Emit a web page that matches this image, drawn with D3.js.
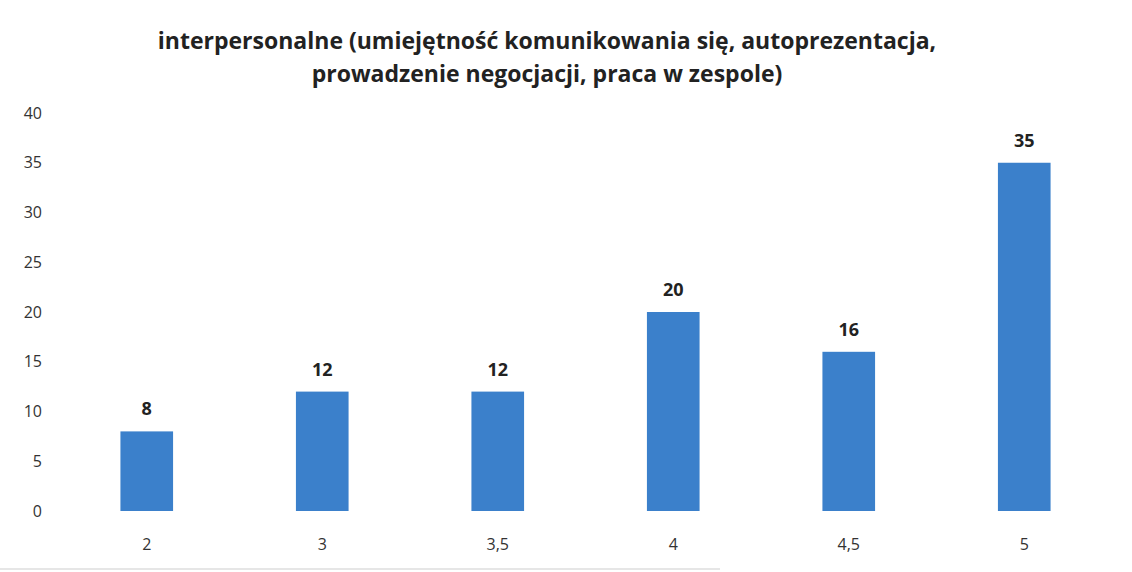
<html>
    <head>
        <meta charset="utf-8">
        <script src="https://d3js.org/d3.v7.min.js"></script>
        <style>
            body { margin: 0; background: #fff; }
            text { font-family: "Open Sans", sans-serif; fill: #222; }
            .tick text { font-size: 16px; fill: #333; }
            .title { font-weight: bold; font-size: 23px; }
            .value { font-weight: bold; font-size: 18px; }
        </style>
    </head>
    <body>
        <script>
            var titleLines = ["interpersonalne (umiejętność komunikowania się, autoprezentacja,",
                              "prowadzenie negocjacji, praca w zespole)"];
            var categories = ["2", "3", "3,5", "4", "4,5", "5"];
            var values = [8, 12, 12, 20, 16, 35];
            var yTicks = [0, 5, 10, 15, 20, 25, 30, 35, 40];

            var width = 1132, height = 572;

            var svg = d3.select("body").append("svg")
                .attr("width", width)
                .attr("height", height);

            var x = d3.scaleBand()
                .domain(categories)
                .range([59, 1112])
                .paddingInner(0.7)
                .paddingOuter(0.35);

            var y = d3.scaleLinear()
                .domain([0, 40])
                .range([511, 113]);

            // title
            svg.selectAll(".title")
                .data(titleLines)
                .enter().append("text")
                .attr("class", "title")
                .attr("x", 547)
                .attr("y", function (d, i) { return 49 + i * 33; })
                .attr("text-anchor", "middle")
                .text(function (d) { return d; });

            // y axis labels only
            var yAxis = svg.append("g")
                .attr("transform", "translate(42,0)")
                .call(d3.axisLeft(y).tickValues(yTicks).tickSize(0).tickPadding(0));
            yAxis.select(".domain").remove();

            var xAxis = svg.append("g")
                .attr("transform", "translate(0," + y(0) + ")")
                .call(d3.axisBottom(x).tickSize(0).tickPadding(28));
            xAxis.select(".domain").remove();

            svg.selectAll(".bar")
                .data(values)
                .enter().append("rect")
                .attr("class", "bar")
                .attr("x", function (d, i) { return x(categories[i]); })
                .attr("width", x.bandwidth())
                .attr("y", function (d) { return y(d); })
                .attr("height", function (d) { return y(0) - y(d); })
                .style("fill", "#3b80cb");

            svg.selectAll(".value")
                .data(values)
                .enter().append("text")
                .attr("class", "value")
                .attr("x", function (d, i) { return x(categories[i]) + x.bandwidth() / 2; })
                .attr("y", function (d) { return y(d) - 16; })
                .attr("text-anchor", "middle")
                .text(function (d) { return d; });

            // faint bottom edge of the scanned frame
            svg.append("line")
                .attr("x1", 0).attr("x2", 720)
                .attr("y1", 569).attr("y2", 569)
                .style("stroke", "#e6e6e6")
                .style("stroke-width", 2);
        </script>
    </body>
</html>
